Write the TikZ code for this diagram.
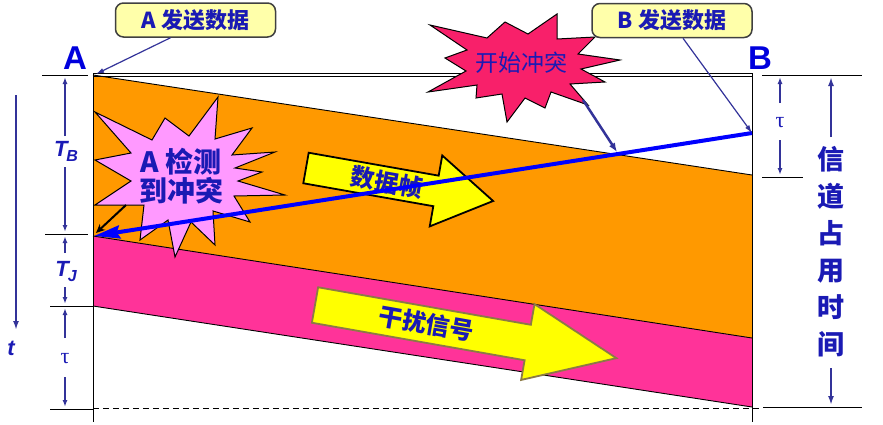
\documentclass[tikz,border=0pt]{standalone}
\usepackage{fontspec}
\setmainfont{Liberation Sans}
\newfontfamily\cjk{Noto Sans CJK SC}
\newfontfamily\greekserif{Liberation Serif}
\usetikzlibrary{arrows.meta,calc}
\definecolor{bandorange}{HTML}{FF9900}
\definecolor{bandpink}{HTML}{FF3399}
\definecolor{arrowyellow}{HTML}{FFFF00}
\definecolor{starred}{HTML}{F8206A}
\definecolor{starviolet}{HTML}{FF99FF}
\definecolor{calloutfill}{HTML}{FFFFAA}
\definecolor{textblue}{HTML}{1A1AB4}
\definecolor{labelblue}{HTML}{0000DD}
\definecolor{dimblue}{HTML}{333399}
\definecolor{olive}{HTML}{8C7A45}
\begin{document}
\begin{tikzpicture}[x=1pt,y=-1pt,
  dimarrow/.style={draw=dimblue,line width=1.8pt,-{Latex[length=7pt,width=5pt]}},
  tickline/.style={draw=black,line width=1pt},
  callout/.style={draw=black!75,line width=1.5pt,fill=calloutfill,rounded corners=8pt,
    minimum width=160pt,minimum height=34pt,inner sep=0pt,
    font=\cjk\bfseries\fontsize{22}{24}\selectfont,text=textblue},
  pointer/.style={draw=dimblue,line width=1.2pt,-{Latex[length=8pt,width=5pt]}},
  dimlabel/.style={text=textblue,inner sep=0pt},
  taulabel/.style={text=textblue,inner sep=0pt,font=\greekserif\fontsize{22}{24}\selectfont},
  bigletter/.style={font=\bfseries\fontsize{33}{36}\selectfont,text=labelblue,inner sep=0pt},
  startext/.style={font=\cjk\fontsize{23}{26}\selectfont,text=textblue,inner sep=0pt},
  vtext/.style={font=\cjk\bfseries\fontsize{27}{37}\selectfont,text=textblue,align=center,inner sep=0pt}
]
\useasboundingbox (0,0) rectangle (883,424);

% corner coordinates
\coordinate (A0) at (93,75);
\coordinate (B0) at (752,75);
\coordinate (Bt) at (752,175);
\coordinate (Bp) at (752,338);
\coordinate (Bb) at (752,407);
\coordinate (Ad) at (93,236);
\coordinate (Aj) at (93,306);
\coordinate (Ae) at (93,409);

% bands
\fill[bandorange] (A0) -- (Bt) -- (Bp) -- (Ad) -- cycle;
\fill[bandpink] (Ad) -- (Bp) -- (Bb) -- (Aj) -- cycle;
\draw[line width=0.9pt] (A0) -- (Bt);
\draw[line width=0.9pt] (Ad) -- (Bp);
\draw[line width=0.9pt] (Aj) -- (Bb);

% frame
\draw[line width=1pt] (93,73) -- (752,73);
\draw[line width=1pt] (93,76.5) -- (752,76.5);
\draw[line width=1pt] (93,73) -- (93,422);
\draw[line width=1pt] (752,73) -- (752,422);
\draw[line width=1pt,dashed,dash pattern=on 6pt off 4pt] (93,408) -- (760,408);

% left ticks
\draw[tickline] (42,75) -- (88,75);
\draw[tickline] (45,234) -- (88,234);
\draw[tickline] (50,306) -- (93,306);
\draw[tickline] (50,409) -- (93,409);
% right ticks
\draw[tickline] (762,75) -- (862,75);
\draw[tickline] (762,177) -- (803,177);
\draw[tickline] (763,407) -- (862,407);

% left dimensions
\node[dimlabel,font=\bfseries\itshape\fontsize{22}{24}\selectfont] (TB) at (66,151) {T\kern-1pt\raisebox{-5pt}{\fontsize{16}{16}\selectfont B}};
\draw[dimarrow] (65,136) -- (65,77);
\draw[dimarrow] (65,167) -- (65,232);
\node[dimlabel,font=\bfseries\itshape\fontsize{22}{24}\selectfont] (TJ) at (66,272) {T\kern-1pt\raisebox{-5pt}{\fontsize{16}{16}\selectfont J}};
\draw[dimarrow] (65,253) -- (65,236);
\draw[dimarrow] (65,287) -- (65,304);
\node[taulabel] (tauL) at (65,359) {τ};
\draw[dimarrow] (65,338) -- (65,308);
\draw[dimarrow] (65,377) -- (65,407);
% time axis
\draw[draw=dimblue,line width=2pt,-{Latex[length=9pt,width=6pt]}] (16,95) -- (16,330);
\node[dimlabel,font=\bfseries\itshape\fontsize{22}{24}\selectfont] (tlab) at (11,348) {t};

% right dimensions
\node[taulabel] (tauR) at (780,123) {τ};
\draw[dimarrow] (780,103) -- (780,77);
\draw[dimarrow] (780,140) -- (780,175);
\node[vtext] (occ) at (831,252) {信\\道\\占\\用\\时\\间};
\draw[draw=dimblue,line width=2pt,-{Latex[length=9pt,width=6pt]}] (831,137) -- (831,77);
\draw[draw=dimblue,line width=2pt,-{Latex[length=9pt,width=6pt]}] (831,368) -- (831,405);

% data frame arrow
\begin{scope}[shift={(306,168)},rotate=-10]
  \draw[fill=arrowyellow,line width=1.8pt,line join=miter]
    (0,-15.5) -- (132,-15.5) -- (132,-36) -- (190,0) -- (132,36) -- (132,15.5) -- (0,15.5) -- cycle;
  \node[font=\cjk\bfseries\fontsize{24}{26}\selectfont,text=textblue,rotate=-10,inner sep=0pt] (dataf) at (82,0) {数据帧};
\end{scope}

% interference arrow
\begin{scope}[shift={(315,305)},rotate=-10]
  \draw[fill=arrowyellow,draw=olive,line width=1.8pt,line join=miter]
    (0,-18) -- (216,-18) -- (216,-39) -- (306,0) -- (216,38) -- (216,18) -- (0,18) -- cycle;
  \node[font=\cjk\bfseries\fontsize{24}{26}\selectfont,text=textblue,rotate=-10,inner sep=0pt] (jam) at (113,-1) {干扰信号};
\end{scope}

% star: A detects collision
\draw[fill=starviolet,line width=1pt,line join=miter]
  (95,112) -- (152,140) -- (165,118) -- (189,136) -- (218,97) -- (215,139) -- (252,128) -- (232,155)
  -- (275,152) -- (235,168) -- (262,172) -- (238,181) -- (285,195) -- (234,196) -- (250,222)
  -- (213,211) -- (215,245) -- (191,222) -- (175,257) -- (168,220) -- (140,240) -- (144,205)
  -- (95,205) -- (131,181) -- (95,160) -- (131,153) -- cycle;
\node[font=\cjk\bfseries\fontsize{28}{29}\selectfont,text=textblue,align=center,inner sep=0pt] (detect) at (181,176) {A 检测\\到冲突};

% blue signal from B
\coordinate (Bsend) at (752,133);
\coordinate (Arecv) at (94,236);
\draw[draw=blue,line width=4pt,-{Stealth[length=26pt,width=13pt,inset=3pt]}] (Bsend) -- (Arecv);

% black arrow from star
\coordinate (starTip) at (126,205);
\draw[line width=2pt,-{Stealth[length=9pt,width=8pt]}] (starTip) -- (96,233);

% star: collision begins
\draw[fill=starred,line width=1pt,line join=miter]
  (430,25) -- (487,38) -- (505,22) -- (528,34) -- (557,14) -- (557,39) -- (595,37) -- (578,54)
  -- (620,60) -- (581,69) -- (605,82) -- (570,84) -- (588,105) -- (551,92) -- (545,108)
  -- (525,98) -- (507,122) -- (502,94) -- (476,98) -- (477,85) -- (428,92) -- (466,71)
  -- (445,58) -- (467,50) -- cycle;
\node[startext] (collide) at (521,63) {开始冲突};
\coordinate (starB) at (583,100);
\coordinate (meet) at (617,152);
\draw[draw=dimblue,line width=2.5pt,-{Latex[length=9pt,width=7pt]}] (starB) -- (meet);

% labels A and B
\node[bigletter] (labA) at (75,58) {A};
\node[bigletter] (labB) at (760,58) {B};

% callouts
\node[callout] (calA) at (195.5,20) {A 发送数据};
\node[callout] (calB) at (672,20.5) {B 发送数据};
\path (calA.south) ++(-25,0) coordinate (pa);
\path (calB.south) ++(11,0) coordinate (pb);
\draw[pointer] (pa) -- (96,74);
\draw[pointer] (pb) -- (Bsend);
\end{tikzpicture}
\end{document}
